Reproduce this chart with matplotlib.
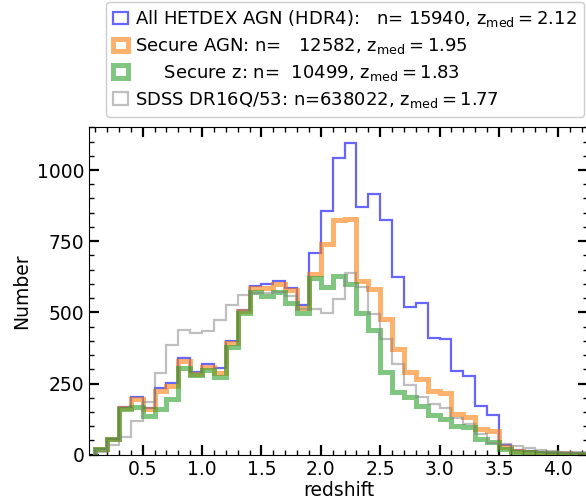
import numpy as np
import matplotlib
matplotlib.use("Agg")
import matplotlib.pyplot as plt

# redshift bins, width 0.1, from 0.1 to 4.3
bin_edges = np.round(np.arange(0.1, 4.31, 0.1), 2)

# counts per bin
all_agn = [20, 55, 168, 203, 165, 233, 252, 340, 291, 317, 303, 399, 507, 594,
           601, 610, 584, 527, 710, 856, 1041, 1094, 870, 914, 826, 623, 520, 532,
           410, 407, 293, 277, 172, 141, 35, 18, 12, 9, 7, 6, 5, 4]
secure_agn = [20, 54, 165, 196, 159, 223, 242, 330, 285, 309, 288, 393, 505, 584,
              587, 598, 577, 515, 636, 739, 825, 829, 609, 583, 477, 370, 291, 266,
              225, 218, 144, 132, 90, 83, 28, 14, 10, 7, 6, 5, 4, 3]
secure_z = [19, 54, 159, 168, 136, 159, 195, 306, 281, 297, 273, 379, 496, 571,
            556, 571, 533, 498, 620, 588, 629, 601, 498, 438, 292, 219, 203, 170,
            141, 127, 101, 96, 56, 46, 20, 11, 8, 6, 5, 4, 3, 2]
sdss = [8, 33, 61, 119, 186, 288, 385, 438, 426, 435, 472, 526, 560, 567,
        567, 572, 558, 513, 511, 497, 546, 638, 588, 493, 408, 317, 244, 203,
        179, 163, 130, 109, 72, 41, 36, 31, 24, 17, 13, 11, 9, 8]

labels = [r"All HETDEX AGN (HDR4):   n= 15940, $\mathrm{z_{med}=2.12}$",
          r"Secure AGN: n=   12582, $\mathrm{z_{med}=1.95}$",
          r"     Secure z: n=  10499, $\mathrm{z_{med}=1.83}$",
          r"SDSS DR16Q/53: n=638022, $\mathrm{z_{med}=1.77}$"]

fs = 13.5
fig = plt.figure(figsize=(5.86, 5.01), dpi=100)
ax = fig.add_axes([89.3 / 586, 46.3 / 501, (588 - 89.3) / 586, 327.4 / 501])

centers = bin_edges[:-1] + 0.05
ax.hist(centers, bins=bin_edges, weights=all_agn, histtype="step",
        color="blue", alpha=0.6, lw=1.6, label=labels[0])
ax.hist(centers, bins=bin_edges, weights=secure_agn, histtype="step",
        color="tab:orange", alpha=0.6, lw=3.6, label=labels[1])
ax.hist(centers, bins=bin_edges, weights=secure_z, histtype="step",
        color="tab:green", alpha=0.6, lw=3.6, label=labels[2])
ax.hist(centers, bins=bin_edges, weights=sdss, histtype="step",
        color="gray", alpha=0.5, lw=1.6, label=labels[3])

ax.set_xlim(0.05, 4.25)
ax.set_ylim(0, 1150)
ax.set_xticks([0.5, 1.0, 1.5, 2.0, 2.5, 3.0, 3.5, 4.0])
ax.set_yticks([0, 250, 500, 750, 1000])
ax.xaxis.set_minor_locator(matplotlib.ticker.MultipleLocator(0.1))
ax.yaxis.set_minor_locator(matplotlib.ticker.MultipleLocator(50))
ax.tick_params(which="both", direction="in", top=True, right=True, labelsize=fs)
ax.tick_params(which="major", length=7, width=1.6)
ax.tick_params(which="minor", length=3.5, width=1)

ax.set_xlabel("redshift", fontsize=fs, labelpad=2)
ax.set_ylabel("Number", fontsize=fs)

fig.legend(loc="upper left", bbox_to_anchor=(106 / 586, 1 - 1.5 / 501),
           borderaxespad=0, fontsize=13, handlelength=0.85, handletextpad=0.4,
           labelspacing=0.38, borderpad=0.38, framealpha=1)

fig.savefig("out.png", dpi=100)
